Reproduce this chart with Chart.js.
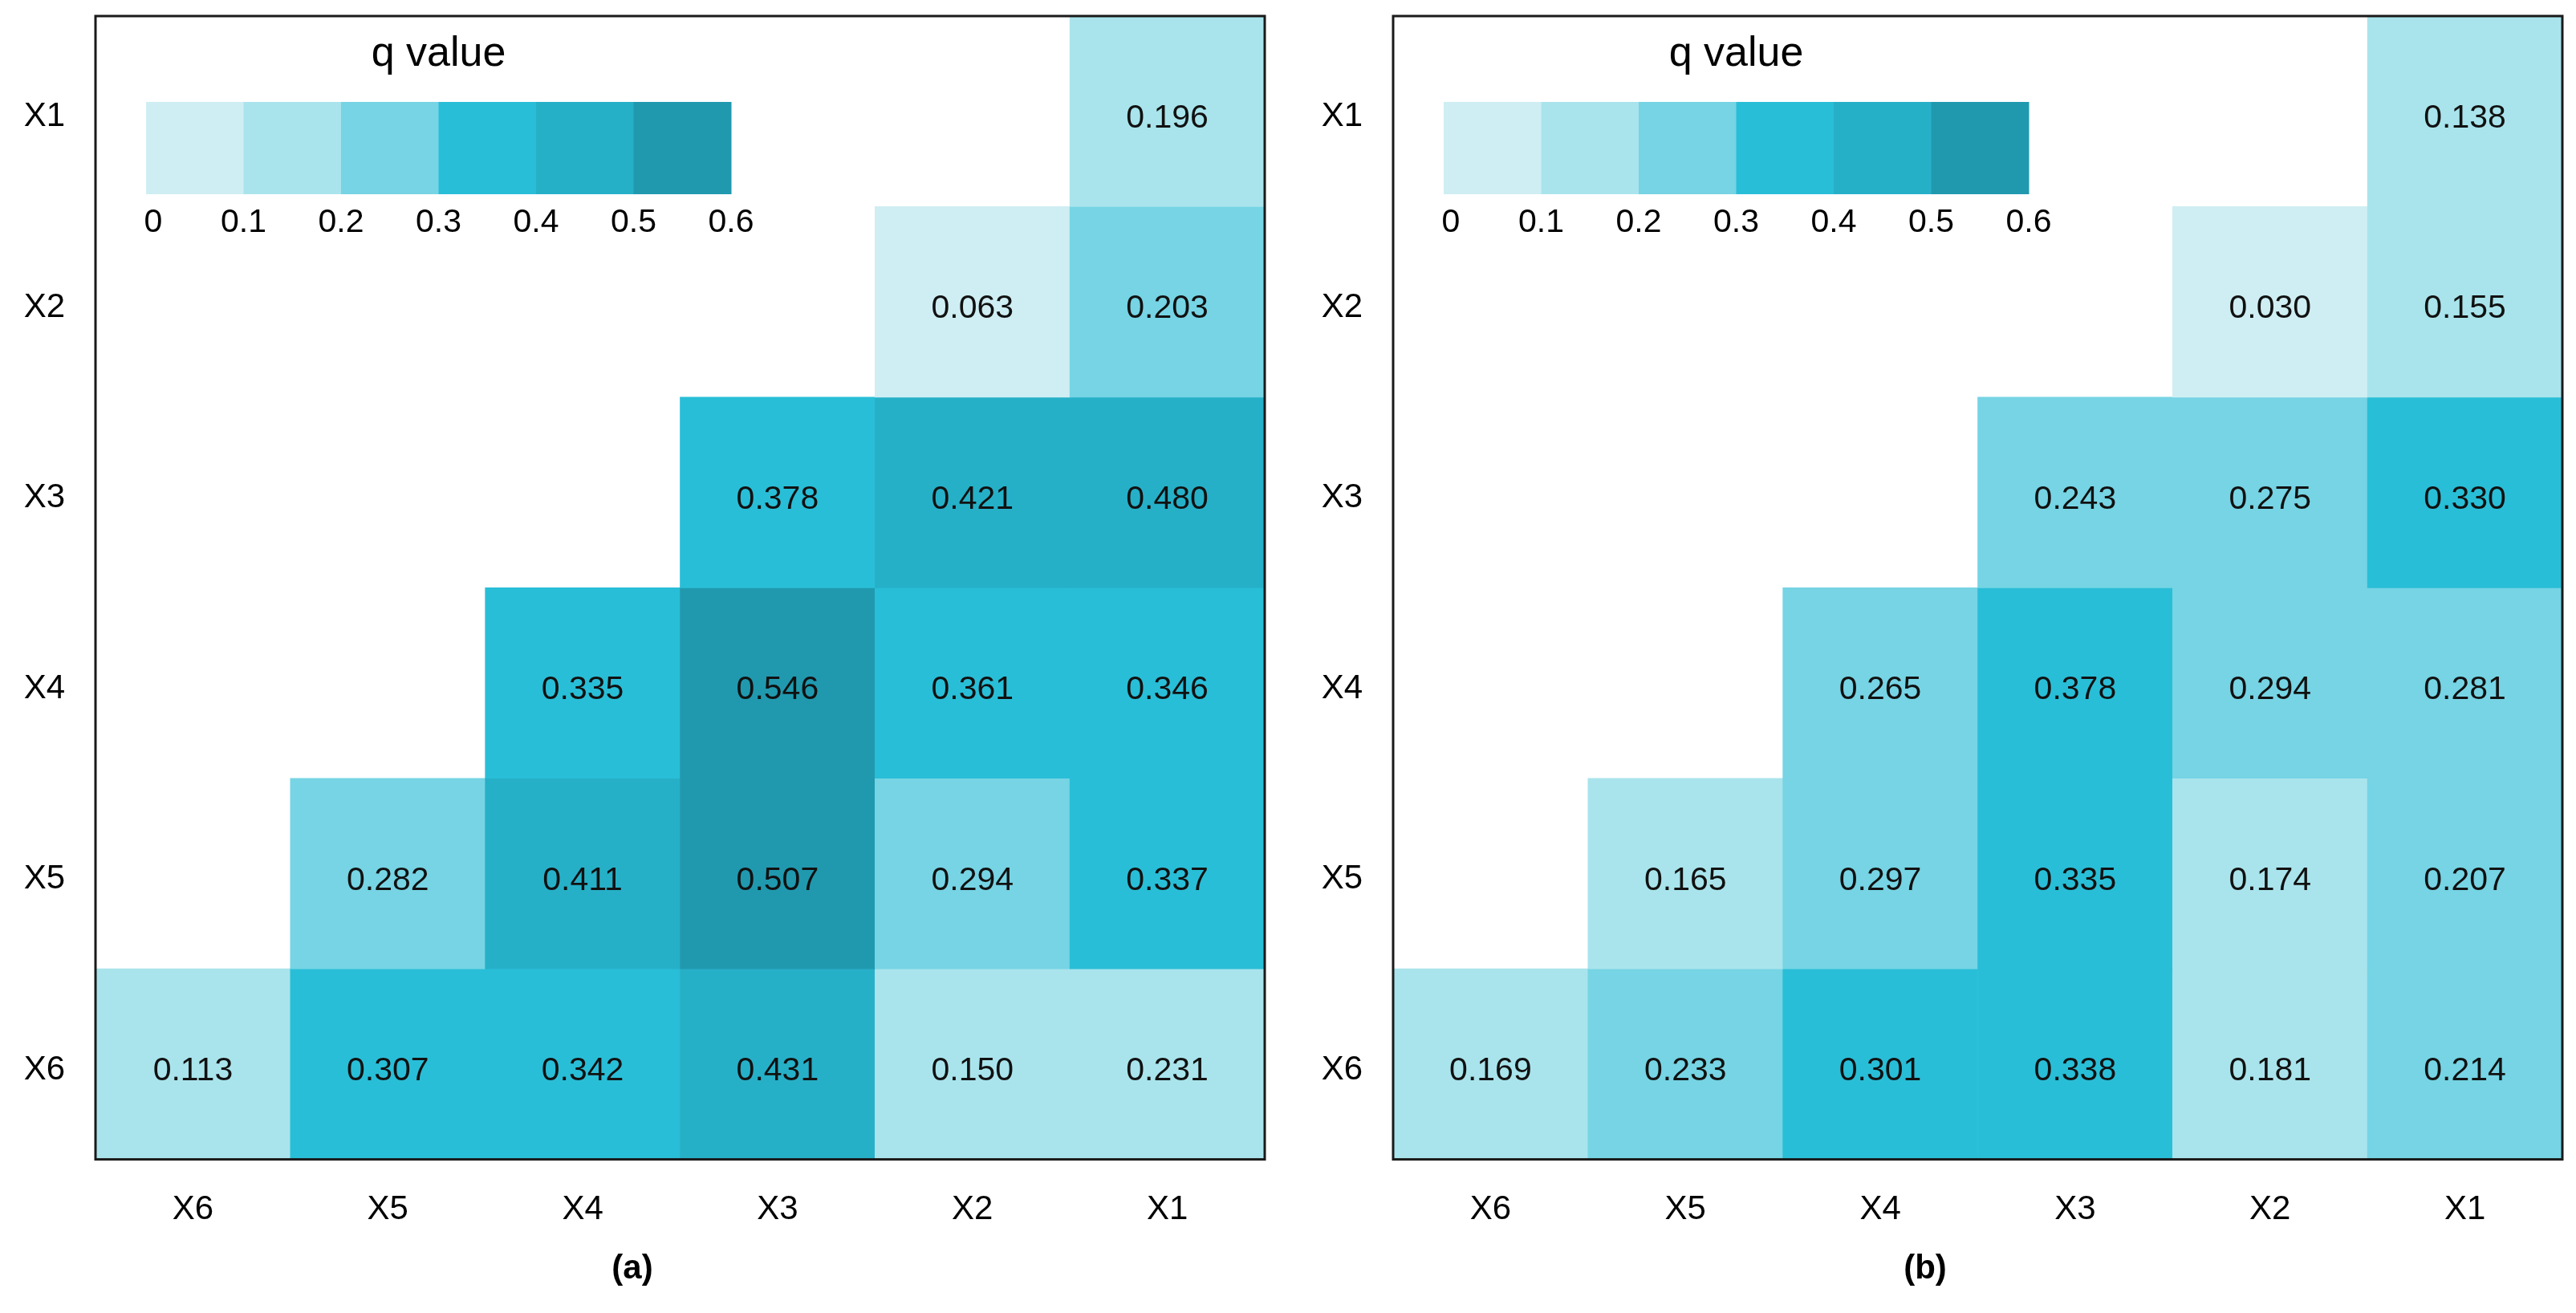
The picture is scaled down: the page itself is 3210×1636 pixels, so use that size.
<!DOCTYPE html>
<html>
<head>
<meta charset="utf-8">
<script src="https://cdn.jsdelivr.net/npm/chart.js@4.4.1/dist/chart.umd.min.js"></script>
<style>
  html, body { margin: 0; padding: 0; background: #fff; }
  #wrap { position: relative; width: 3210px; height: 1636px; }
  canvas { position: absolute; top: 0; }
</style>
</head>
<body>
<div id="wrap">
  <canvas id="chartA" width="1605" height="1636" style="left:0"></canvas>
  <canvas id="chartB" width="1605" height="1636" style="left:1605px"></canvas>
</div>
<script>
// columns left to right, rows top to bottom
const colLabels = ['X6', 'X5', 'X4', 'X3', 'X2', 'X1'];
const rowLabels = ['X1', 'X2', 'X3', 'X4', 'X5', 'X6'];

// q values, one row per factor, columns in colLabels order
const qA = [
  [null, null, null, null, null, 0.196],
  [null, null, null, null, 0.063, 0.203],
  [null, null, null, 0.378, 0.421, 0.480],
  [null, null, 0.335, 0.546, 0.361, 0.346],
  [null, 0.282, 0.411, 0.507, 0.294, 0.337],
  [0.113, 0.307, 0.342, 0.431, 0.150, 0.231]
];
const qB = [
  [null, null, null, null, null, 0.138],
  [null, null, null, null, 0.030, 0.155],
  [null, null, null, 0.243, 0.275, 0.330],
  [null, null, 0.265, 0.378, 0.294, 0.281],
  [null, 0.165, 0.297, 0.335, 0.174, 0.207],
  [0.169, 0.233, 0.301, 0.338, 0.181, 0.214]
];

const legendTicks = [0, 0.1, 0.2, 0.3, 0.4, 0.5, 0.6];
const shades = ['#CFEEF3', '#A9E4EC', '#76D4E4', '#29BED7', '#26B0C8', '#2099AF'];
// the figure paints this one cell of (a) in the 0.1-0.2 shade
const shadeFixA = [{ row: 'X6', col: 'X1', band: 1 }];

const FONT = 'Arial, "Liberation Sans", sans-serif';
Chart.defaults.font.family = FONT;
Chart.defaults.color = '#000';

const cellText = {
  id: 'cellText',
  afterDatasetsDraw(chart) {
    const ctx = chart.ctx;
    ctx.save();
    ctx.font = '41px ' + FONT;
    ctx.fillStyle = '#111';
    ctx.textAlign = 'center';
    ctx.textBaseline = 'middle';
    chart.data.datasets.forEach((ds, i) => {
      chart.getDatasetMeta(i).data.forEach((el, j) => {
        const v = ds.q[j];
        if (v == null) return;
        const p = el.getProps(['x', 'y', 'base'], true);
        ctx.fillText(v.toFixed(3), p.x, (p.y + p.base) / 2 + 9);
      });
    });
    ctx.restore();
  }
};

const frame = {
  id: 'frame',
  afterDraw(chart) {
    const { ctx, chartArea: a } = chart;
    ctx.save();
    ctx.strokeStyle = '#1a1a1a';
    ctx.lineWidth = 3;
    ctx.strokeRect(a.left, a.top, a.right - a.left, a.bottom - a.top);
    ctx.restore();
  }
};

const qLegend = {
  id: 'qLegend',
  afterDraw(chart) {
    const { ctx, chartArea: a } = chart;
    const x0 = a.left + 63, y0 = a.top + 107, w = 729, h = 115;
    const seg = w / shades.length;
    ctx.save();
    shades.forEach((c, i) => {
      ctx.fillStyle = c;
      ctx.fillRect(x0 + i * seg, y0, seg + 0.5, h);
    });
    ctx.fillStyle = '#000';
    ctx.textAlign = 'center';
    ctx.textBaseline = 'middle';
    ctx.font = '52px ' + FONT;
    ctx.fillText('q value', x0 + w / 2, a.top + 48);
    ctx.font = '41px ' + FONT;
    legendTicks.forEach((t, i) => {
      ctx.fillText(String(t), x0 + i * seg + (i === 0 ? 9 : 0), y0 + h + 36);
    });
    ctx.restore();
  }
};

function heatmap(id, values, title, axisWidth, padRight, fixes) {
  const n = rowLabels.length;
  const datasets = rowLabels.map((r, i) => {
    const y0 = n - 1 - i;
    return {
      label: r,
      q: values[i],
      data: values[i].map(v => (v == null ? null : [y0, y0 + 1])),
      backgroundColor: ctx => {
        const v = values[i][ctx.dataIndex];
        if (v == null) return 'transparent';
        const fix = fixes.find(f => f.row === r && f.col === colLabels[ctx.dataIndex]);
        const band = fix ? fix.band : Math.min(shades.length - 1, Math.floor(v * 10));
        return shades[band];
      },
      borderWidth: 0,
      borderSkipped: false,
      grouped: false,
      barPercentage: 1,
      categoryPercentage: 1
    };
  });

  return new Chart(document.getElementById(id), {
    type: 'bar',
    data: { labels: colLabels, datasets },
    options: {
      responsive: false,
      animation: false,
      devicePixelRatio: 1,
      layout: { padding: { left: 0, right: padRight, top: 20, bottom: 0 } },
      scales: {
        x: {
          grid: { display: false },
          border: { display: false },
          ticks: { padding: 30, font: { size: 42 }, color: '#000' },
          afterFit: s => { s.height = 112; s.paddingLeft = 0; s.paddingRight = 0; }
        },
        y: {
          min: 0,
          max: n,
          grid: { display: false },
          border: { display: false },
          // one label per row, set a touch below the row middle as in the figure
          afterBuildTicks: s => {
            s.ticks = rowLabels.map((_, i) => ({ value: n - 1 - i + 0.47 }));
          },
          ticks: {
            padding: 30,
            font: { size: 42 },
            color: '#000',
            callback: v => rowLabels[n - 1 - Math.floor(v)]
          },
          afterFit: s => { s.width = axisWidth; s.paddingTop = 0; s.paddingBottom = 0; }
        }
      },
      plugins: {
        legend: { display: false },
        tooltip: { enabled: false },
        title: {
          display: true,
          position: 'bottom',
          text: title,
          color: '#000',
          font: { size: 42, weight: 'bold' },
          padding: { top: 0, bottom: 29 }
        }
      }
    },
    plugins: [cellText, frame, qLegend]
  });
}

heatmap('chartA', qA, '(a)', 119, 29, shadeFixA);
heatmap('chartB', qB, '(b)', 131, 17, []);
</script>
</body>
</html>
